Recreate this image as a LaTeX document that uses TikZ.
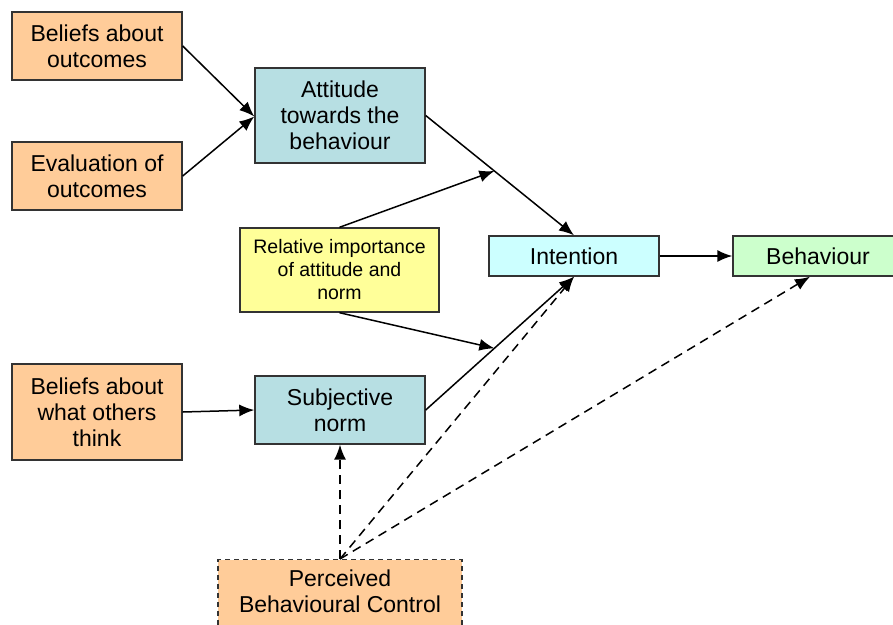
\documentclass[tikz,border=0pt]{standalone}
\usepackage{fontspec}
\setmainfont{Liberation Sans}
\usetikzlibrary{arrows.meta,calc}
\definecolor{peach}{HTML}{FFCC99}
\definecolor{teal}{HTML}{B7DFE3}
\definecolor{cyanish}{HTML}{CCFFFF}
\definecolor{mint}{HTML}{CCFFCC}
\definecolor{paleyellow}{HTML}{FFFF99}
\definecolor{edge}{HTML}{333333}
\begin{document}
\begin{tikzpicture}[x=1pt,y=-1pt,
  box/.style={draw=edge,line width=1.4pt,align=center,inner sep=0pt,
    font=\fontsize{23}{26}\selectfont},
  link/.style={line width=1.5pt,-{Latex[length=15pt,width=12pt]}},
  dlink/.style={link,dash pattern=on 9pt off 6pt}]
\useasboundingbox (0,0) rectangle (893,624);
\begin{scope}
\clip (0,0) rectangle (893,624);
\node[box,fill=peach,minimum width=170pt,minimum height=68pt] (bo) at (97,46) {Beliefs about\\outcomes};
\node[box,fill=peach,minimum width=170pt,minimum height=68pt] (eo) at (97,176) {Evaluation of\\outcomes};
\node[box,fill=teal,minimum width=170pt,minimum height=95pt] (att) at (340,115.5) {Attitude\\towards the\\behaviour};
\node[box,fill=paleyellow,minimum width=199pt,minimum height=84pt,font=\fontsize{19.5}{23}\selectfont] (rel) at (339.5,270) {Relative importance\\of attitude and\\norm};
\node[box,fill=cyanish,minimum width=170pt,minimum height=40pt] (int) at (574,256) {Intention};
\node[box,fill=mint,minimum width=170pt,minimum height=40pt] (beh) at (818,256) {Behaviour};
\node[box,fill=peach,minimum width=170pt,minimum height=96pt] (bw) at (97,412) {Beliefs about\\what others\\think};
\node[box,fill=teal,minimum width=170pt,minimum height=68pt] (sn) at (340,410) {Subjective\\norm};
\node[box,fill=peach,dash pattern=on 5pt off 4pt,minimum width=244pt,minimum height=100pt,
  anchor=north] (pbc) at (340,559) {};
\node[font=\fontsize{23}{26}\selectfont,align=center,anchor=north] (pbct) at (340,566) {Perceived\\Behavioural Control};
\end{scope}
\coordinate (attin) at ($(att.west)+(0,1)$);
\coordinate (behin) at ($(beh.south)+(-8,0)$);
\draw[link] (bo.east) -- (attin);
\draw[link] (eo.east) -- (attin);
\draw[link] (att.east) -- (int.north);
\draw[link] (sn.east) -- (int.south);
\coordinate (ma) at ($(att.east)!0.463!(int.north)$);
\coordinate (ms) at ($(sn.east)!0.463!(int.south)$);
\draw[link] (rel.north) -- (ma);
\draw[link] (rel.south) -- (ms);
\draw[link] (bw.east) -- (sn.west);
\draw[link] (int.east) -- (beh.west);
\draw[dlink] (pbc.north) -- (sn.south);
\draw[dlink] (pbc.north) -- (int.south);
\draw[dlink] (pbc.north) -- (behin);
\end{tikzpicture}
\end{document}
